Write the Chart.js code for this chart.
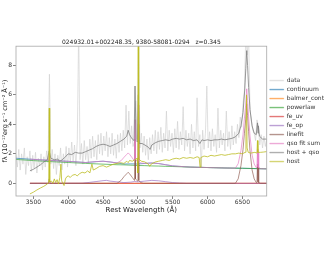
<!DOCTYPE html>
<html>
<head>
<meta charset="utf-8">
<script src="https://cdn.jsdelivr.net/npm/chart.js@4.4.1/dist/chart.umd.min.js"></script>
<style>
  html, body { margin: 0; padding: 0; background: #fff; }
</style>
</head>
<body>
<canvas id="specChart" width="330" height="255"></canvas>
<script>
const titleText = '024932.01+002248.35, 9380-58081-0294   z=0.345';
const xTicks = [3500, 4000, 4500, 5000, 5500, 6000, 6500];
const yTicks = [0, 2, 4, 6, 8];
const xRange = [3250, 6850];
const yRange = [-0.86, 9.3];

// observed spectrum, 20 A grid starting at 3250
const dataStart = 3250, dataStep = 20;
const dataFlux = [
  1.9, 1.1, 2.3, 0.9, 2.0, 1.3, 2.4, 0.6, 1.8, 1.2,
  2.2, 0.8, 1.9, 1.0, 2.1, 0.7, 1.7, 1.2, 2.0, 0.9,
  1.8, 1.1, 2.2, 1.4, 7.4, 1.3, 2.3, 1.0, 2.0, 0.6,
  1.9, 1.2, 2.4, 0.9, 2.0, 1.3, 2.5, 1.1, 2.4, 1.4,
  2.8, 1.5, 2.6, 1.2, 2.9, 10.5, 1.6, 2.7, 1.3, 2.9,
  1.6, 2.5, 1.4, 3.0, 1.7, 3.2, 1.8, 2.9, 1.6, 3.3,
  2.0, 3.4, 1.9, 3.2, 2.2, 3.5, 1.8, 3.1, 2.0, 3.4,
  1.9, 3.0, 1.7, 3.3, 2.1, 3.4, 2.2, 3.6, 2.4, 5.3,
  2.6, 4.9, 2.7, 3.9, 2.5, 2.8, 5.6, 3.0, 9.6, 2.4,
  3.4, 2.1, 3.2, 1.9, 3.0, 1.6, 3.1, 2.0, 3.3, 2.2,
  3.6, 2.0, 3.5, 2.3, 3.8, 2.1, 3.4, 2.4, 4.9, 2.2,
  3.6, 2.5, 3.4, 2.1, 3.7, 2.4, 4.2, 2.3, 3.5, 2.6,
  5.2, 2.2, 3.6, 2.5, 3.4, 2.0, 4.0, 2.4, 3.5, 2.2,
  5.8, 2.5, 3.3, 1.1, 3.6, 2.3, 3.4, 6.6, 2.4, 3.5,
  2.2, 3.7, 2.5, 3.3, 2.1, 5.1, 2.4, 3.6, 2.6, 3.4,
  2.2, 4.9, 2.5, 3.5, 2.3, 3.9, 2.6, 3.5, 2.7, 4.0,
  3.1, 4.5, 3.8, 5.4, 6.3, 10.2, 8.7, 10.0, 5.0, 4.2,
  3.6, 3.4, 2.9, 4.3, 3.9, 2.6, 3.3, 2.4, 3.2, 2.5,
  3.0
];
const dataWave = dataFlux.map((_, i) => dataStart + dataStep * i);

const contWave = [3250, 3500, 3750, 4000, 4250, 4400, 4500, 4600, 4700, 4800, 4900,
  5000, 5100, 5200, 5300, 5400, 5500, 5750, 6000, 6250, 6500, 6850];
const contFlux = [1.70, 1.62, 1.55, 1.49, 1.41, 1.47, 1.50, 1.45, 1.38, 1.31, 1.32,
  1.31, 1.35, 1.38, 1.34, 1.26, 1.18, 1.10, 1.07, 1.04, 1.02, 0.98];

const powerlawFlux = [1.62, 1.54, 1.47, 1.41, 1.35, 1.32, 1.30, 1.28, 1.26, 1.25, 1.23,
  1.21, 1.20, 1.18, 1.17, 1.15, 1.14, 1.10, 1.07, 1.04, 1.02, 0.98];

const balmerWave = [3450, 6850];
const balmerFlux = [0, 0];
const feUvWave = [3450, 6850];
const feUvFlux = [0, 0];

const feOpWave = [3450, 4200, 4300, 4400, 4500, 4550, 4600, 4700, 4800, 4900, 4950,
  5000, 5100, 5200, 5300, 5400, 5500, 5600, 5700, 6850];
const feOpFlux = [0, 0.01, 0.06, 0.12, 0.18, 0.2, 0.15, 0.1, 0.05, 0.08, 0.12,
  0.1, 0.15, 0.2, 0.17, 0.11, 0.05, 0.02, 0, 0];

const lineWave = [3450, 3715, 3727, 3740, 4700, 4760, 4800, 4840, 4861, 4880, 4920,
  4950, 4953, 4959, 4965, 4998, 5001, 5007, 5013, 5040, 5080, 6400, 6440, 6480, 6510,
  6530, 6548, 6563, 6575, 6590, 6610, 6640, 6670, 6700, 6710, 6717, 6724, 6727, 6731,
  6738, 6760, 6850];
const lineFlux = [0, 0, 0.3, 0, 0, 0.2, 0.45, 0.65, 0.75, 0.65, 0.4,
  0.2, 0.3, 3.0, 0.3, 0.15, 0.3, 4.0, 0.2, 0.05, 0, 0, 0.3, 1.2, 2.3,
  3.4, 4.3, 5.4, 4.6, 3.5, 2.2, 0.9, 0.3, 0.05, 0.1, 1.3, 0.1, 0.1, 1.1,
  0.05, 0, 0];

const qsoWave = [3450, 3715, 3727, 3740, 4000, 4250, 4400, 4500, 4600, 4700, 4760,
  4800, 4840, 4861, 4880, 4920, 4950, 4953, 4959, 4965, 4998, 5001, 5007, 5013, 5040,
  5100, 5200, 5300, 5400, 5500, 5750, 6000, 6250, 6400, 6440, 6480, 6510, 6530, 6548,
  6563, 6575, 6590, 6610, 6640, 6670, 6700, 6710, 6717, 6724, 6727, 6731, 6738, 6760, 6850];
const qsoFlux = [1.64, 1.56, 1.86, 1.55, 1.49, 1.41, 1.47, 1.50, 1.45, 1.38, 1.54,
  1.76, 1.96, 2.06, 1.97, 1.72, 1.52, 1.62, 4.32, 1.61, 1.46, 1.61, 5.31, 1.51, 1.38,
  1.35, 1.38, 1.34, 1.26, 1.18, 1.10, 1.07, 1.04, 1.03, 1.33, 2.22, 3.32, 4.42, 5.31,
  6.41, 5.61, 4.51, 3.21, 1.91, 1.31, 1.06, 1.11, 2.31, 1.11, 1.11, 2.11, 1.06, 0.99, 0.98];

const hostQsoWave = [3450, 3500, 3550, 3600, 3650, 3700, 3727, 3750, 3800, 3850, 3875,
  3900, 3950, 4000, 4050, 4100, 4150, 4200, 4250, 4300, 4350, 4400, 4450, 4500, 4550,
  4600, 4650, 4700, 4750, 4800, 4840, 4861, 4880, 4920, 4945, 4959, 4975, 4995, 5007,
  5020, 5060, 5100, 5150, 5175, 5200, 5250, 5300, 5350, 5400, 5450, 5500, 5550, 5600,
  5650, 5700, 5750, 5800, 5850, 5890, 5920, 5950, 6000, 6050, 6100, 6150, 6200, 6250,
  6300, 6350, 6400, 6450, 6480, 6510, 6535, 6550, 6563, 6575, 6590, 6610, 6640, 6670,
  6700, 6717, 6725, 6731, 6745, 6790, 6850];
const hostQsoFlux = [0.85, 0.95, 1.1, 1.25, 1.45, 1.6, 2.2, 1.7, 1.6, 1.65, 1.5,
  1.55, 1.75, 2.0, 1.95, 2.1, 2.05, 2.05, 2.15, 2.25, 2.35, 2.5, 2.6, 2.65, 2.6,
  2.5, 2.6, 2.7, 2.85, 3.0, 3.2, 3.6, 3.3, 3.0, 2.9, 6.6, 2.9, 2.8, 6.0,
  2.7, 2.7, 2.6, 2.45, 2.3, 2.6, 2.75, 2.85, 2.9, 2.95, 2.9, 3.0, 3.05, 3.0,
  3.05, 2.95, 3.0, 2.9, 2.95, 2.7, 2.95, 2.9, 2.95, 2.9, 2.95, 2.95, 3.0, 2.95,
  3.0, 3.05, 3.15, 3.4, 3.9, 4.8, 6.4, 7.8, 9.0, 8.0, 6.5, 5.0, 3.9, 3.4,
  3.3, 4.1, 3.4, 3.9, 3.2, 3.0, 3.0];

const hostWave = [3450, 3500, 3550, 3600, 3650, 3700, 3720, 3727, 3734, 3760, 3780,
  3800, 3820, 3840, 3860, 3880, 3895, 3905, 3920, 3940, 3960, 3980, 4000, 4030, 4060,
  4100, 4130, 4160, 4200, 4240, 4280, 4310, 4340, 4360, 4400, 4450, 4500, 4550, 4600,
  4650, 4700, 4750, 4800, 4840, 4861, 4880, 4920, 4959, 4990, 5000, 5005, 5012, 5050,
  5100, 5150, 5170, 5190, 5250, 5300, 5350, 5400, 5450, 5500, 5550, 5600, 5650, 5700,
  5750, 5800, 5850, 5880, 5893, 5905, 5950, 6000, 6050, 6100, 6150, 6200, 6250, 6300,
  6350, 6400, 6450, 6500, 6540, 6552, 6560, 6568, 6585, 6620, 6680, 6710, 6717, 6724,
  6760, 6800, 6850];
const hostFlux = [-0.72, -0.6, -0.45, -0.32, -0.2, -0.05, 0.05, 5.1, 0.1, 0.15, 0.0,
  0.3, 0.05, 0.25, -0.05, 0.4, 1.3, 0.2, 0.0, -0.15, 0.3, 0.45, 0.5, 0.4, 0.55,
  0.6, 0.5, 0.65, 0.75, 0.7, 0.85, 0.7, 1.3, 0.9, 1.0, 1.15, 1.2, 1.1, 1.2,
  1.3, 1.35, 1.4, 1.35, 1.5, 1.4, 1.55, 1.5, 1.6, 1.7, 0.7, 15, 1.65, 1.5,
  1.45, 1.3, 1.15, 1.3, 1.45, 1.5, 1.55, 1.6, 1.55, 1.65, 1.7, 1.65, 1.75, 1.7,
  1.75, 1.7, 1.8, 1.75, 1.1, 1.75, 1.85, 1.8, 1.9, 1.85, 1.9, 1.95, 1.9, 1.95,
  2.0, 2.0, 2.05, 2.0, 2.1, 3.2, 6.0, 2.4, 2.1, 2.05, 2.1, 2.05, 2.9, 2.1,
  2.1, 2.12, 2.15];

const seriesNames = ['data', 'continuum', 'balmer_cont', 'powerlaw', 'fe_uv', 'fe_op',
  'linefit', 'qso fit sum', 'host + qso', 'host'];
const seriesColors = ['#d2d2d2', '#1f77b4', '#ff7f0e', '#2ca02c', '#d62728', '#9467bd',
  '#8c564b', '#e377c2', '#7f7f7f', '#bcbd22'];
const seriesWidths = [0.7, 0.65, 0.65, 0.65, 0.65, 0.65, 0.65, 0.65, 0.8, 0.8];
const seriesData = [
  [dataWave, dataFlux], [contWave, contFlux], [balmerWave, balmerFlux],
  [contWave, powerlawFlux], [feUvWave, feUvFlux], [feOpWave, feOpFlux],
  [lineWave, lineFlux], [qsoWave, qsoFlux], [hostQsoWave, hostQsoFlux], [hostWave, hostFlux]
];

function fade(hex, a) {
  const n = parseInt(hex.slice(1), 16);
  return `rgba(${n >> 16},${(n >> 8) & 255},${n & 255},${a})`;
}

const datasets = seriesNames.map((name, i) => ({
  label: name,
  data: seriesData[i][0].map((x, j) => ({ x, y: seriesData[i][1][j] })),
  borderColor: seriesColors[i],
  backgroundColor: seriesColors[i],
  borderWidth: seriesWidths[i],
  pointRadius: 0,
  showLine: true,
  tension: 0,
  clip: 0,
  order: 10 - i
}));

const framePlugin = {
  id: 'frame',
  afterDatasetsDraw(chart) {
    const { ctx, chartArea: a } = chart;
    ctx.save();
    ctx.strokeStyle = '#a8a8a8';
    ctx.lineWidth = 0.8;
    ctx.strokeRect(a.left, a.top, a.right - a.left, a.bottom - a.top);
    ctx.restore();
  }
};

Chart.defaults.font.family = "'DejaVu Sans', sans-serif";
Chart.defaults.color = '#333';

new Chart(document.getElementById('specChart'), {
  type: 'scatter',
  data: { datasets },
  options: {
    responsive: false,
    animation: false,
    devicePixelRatio: 1,
    layout: { padding: { top: 39, bottom: 41, left: 0, right: -4 } },
    scales: {
      x: {
        type: 'linear',
        min: xRange[0], max: xRange[1],
        afterBuildTicks: s => { s.ticks = xTicks.map(v => ({ value: v })); },
        afterFit: s => { s.height = 18; },
        ticks: { font: { size: 6 }, padding: 0, maxRotation: 0, callback: v => String(v), color: '#333' },
        grid: { drawOnChartArea: false, tickLength: 3, color: '#666', lineWidth: 0.8 },
        border: { display: false },
        title: { display: true, text: 'Rest Wavelength (\u00c5)', font: { size: 7 }, padding: 0, color: '#222' }
      },
      y: {
        type: 'linear',
        min: yRange[0], max: yRange[1],
        afterBuildTicks: s => { s.ticks = yTicks.map(v => ({ value: v })); },
        afterFit: s => { s.width = 16; },
        ticks: { font: { size: 6 }, padding: 1, callback: v => String(v), color: '#333' },
        grid: { drawOnChartArea: false, tickLength: 3, color: '#666', lineWidth: 0.8 },
        border: { display: false },
        title: { display: true, text: 'f\u03bb (10\u207b\u00b9\u2077erg s\u207b\u00b9 cm\u207b\u00b2 \u00c5\u207b\u00b9)', font: { size: 6.5 }, padding: 1, color: '#222' }
      }
    },
    plugins: {
      title: { display: true, text: titleText, fullSize: false, font: { size: 6, weight: 'normal' }, padding: 0, color: '#222' },
      legend: {
        position: 'right',
        fullSize: false,
        align: 'center',
        labels: {
          font: { size: 6 },
          boxWidth: 14,
          boxHeight: 1,
          padding: 3,
          color: '#333',
          sort: (a, b) => a.datasetIndex - b.datasetIndex,
          generateLabels: chart => Chart.defaults.plugins.legend.labels.generateLabels(chart).map(l => {
            const c = seriesColors[l.datasetIndex];
            l.fillStyle = fade(c, 0.5);
            l.strokeStyle = fade(c, 0.5);
            l.lineWidth = 0.5;
            return l;
          })
        }
      },
      tooltip: { enabled: false }
    }
  },
  plugins: [framePlugin]
});
</script>
</body>
</html>
